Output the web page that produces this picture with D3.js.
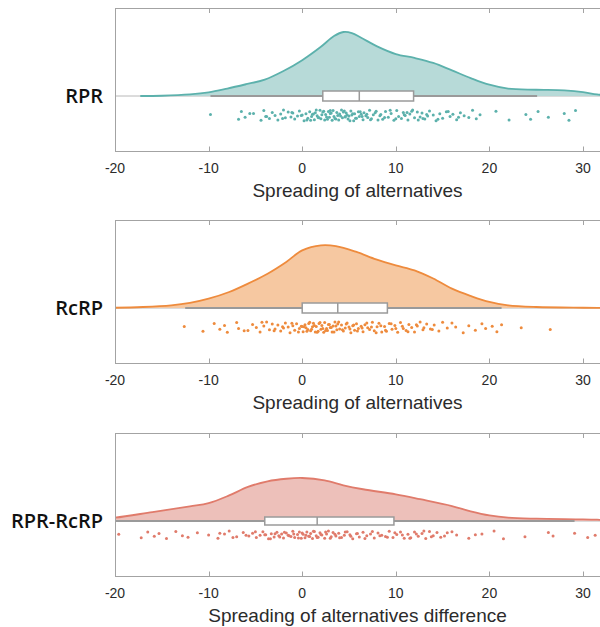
<!DOCTYPE html>
<meta charset="utf-8">
<script src="https://d3js.org/d3.v7.min.js"></script>
<style>
body { margin: 0; background: #fff; }
text { font-family: "Liberation Sans", Arial, sans-serif; }
.frame { fill: none; stroke: #a3a3a3; stroke-width: 1px; }
.tick-label { fill: #2b2b2b; font-size: 14px; }
.axis-title { fill: #2b2b2b; font-size: 19px; }
.cat-label { fill: #111; font-family: "Open Sans", sans-serif; font-size: 20px; font-weight: 600; }
.baseline { stroke: #b8b8b8; stroke-width: 1px; }
.whisker { stroke: #9a9a9a; stroke-width: 2px; }
.box { fill: #fff; stroke: #9a9a9a; stroke-width: 1.5px; }
</style>
<body>
<script>

// tick labels shared by all three panels
var xTicks = [-20, -10, 0, 10, 20, 30];

// category names and axis titles
var labels = ["RPR", "RcRP", "RPR-RcRP"];
var titles = ["Spreading of alternatives", "Spreading of alternatives", "Spreading of alternatives difference"];

// density curves: [value, density]
var rprDensity = [[-17.3,0],[-15,0.0002],[-12,0.0012],[-10,0.0028],[-8,0.0058],[-6,0.0092],[-4,0.0128],[-2,0.0195],
  [0,0.028],[2,0.0385],[3.4,0.0468],[4.4,0.05],[5.3,0.0492],[6.3,0.0455],[8,0.0388],[10,0.0328],[12,0.0297],[14,0.0258],
  [16,0.02],[18,0.014],[20,0.0088],[22,0.0057],[25,0.0049],[28,0.0044],[30,0.0031],[31.5,0.0012],[33,0.0004],[36,0]];
var rcrpDensity = [[-24,0],[-20,0.0002],[-17,0.0008],[-14,0.0021],[-12,0.004],[-10,0.0073],[-7.8,0.0125],[-5.8,0.019],
  [-3.7,0.0268],[-1.7,0.036],[0,0.045],[2,0.049],[3.6,0.0484],[5.8,0.0438],[7.9,0.038],[10,0.0333],[12,0.0294],
  [14,0.023],[16,0.0151],[18,0.0094],[20,0.0047],[22,0.0021],[25,0.0008],[30,0.0002],[34,0]];
var diffDensity = [[-26,0.0004],[-23,0.0015],[-20,0.0026],[-16,0.007],[-12,0.0115],[-10,0.014],[-7.8,0.02],[-5.8,0.0266],
  [-3.7,0.031],[-1.7,0.033],[0,0.0336],[2.4,0.0318],[4.4,0.0279],[6.5,0.0248],[10,0.0208],[12.6,0.017],[16,0.0117],
  [18,0.0076],[20,0.0044],[22,0.0026],[25,0.0018],[30,0.0013],[31.5,0.001],[34,0.0004],[36,0]];

// box plots: lower whisker, q1, median, q3, upper whisker
var rprBox = [-9.8, 2.2, 6.1, 11.9, 25.1];
var rcrpBox = [-12.5, 0, 3.8, 9.1, 21.3];
var diffBox = [-22, -4, 1.6, 9.8, 29.1];

// raw observations (rain)
var rprPoints = [-9.8, -6.8, -6.5, -6.1, -5.6, -4.4, -4.1, -3.8, -3.5, -3.2, -2.9, -2.6, -2.3, -2.0, -1.8, -1.5, -1.2, -1.0,
  -0.8, -0.5, -0.3, 0.0, 0.2, 0.4, 0.6, 0.8, 1.0, 1.1, 1.3, 1.4, 1.6, 1.7, 1.9, 2.0, 2.1, 2.3, 2.4, 2.5, 2.7, 2.8, 2.9,
  3.0, 3.2, 3.3, 3.4, 3.5, 3.7, 3.8, 3.9, 4.0, 4.2, 4.3, 4.4, 4.6, 4.7, 4.9, 5.0, 5.2, 5.3, 5.5, 5.6, 5.8, 6.0, 6.1,
  6.3, 6.5, 6.6, 6.8, 7.0, 7.2, 7.4, 7.6, 7.9, 8.1, 8.4, 8.6, 8.9, 9.2, 9.5, 9.8, 10.1, 10.3, 10.6, 10.8, 11.0, 11.3,
  11.5, 11.8, 12.0, 12.3, 12.6, 12.8, 13.1, 13.4, 13.6, 14.0, 14.3, 14.7, 15.0, 15.4, 15.8, 16.1, 16.5, 16.9, 17.3,
  17.8, 18.2, 18.6, 19.0, 20.7, 22.1, 23.9, 24.4, 25.2, 26.3, 28.0, 28.5, 29.2,
  -3.9, -2.1, -1.1, -0.1, 0.5, 1.2, 1.5, 1.8, 2.2, 2.6, 3.1, 3.6, 4.1, 4.5, 4.8, 5.1, 5.4, 5.7, 6.2, 6.4, 6.9, 7.3,
  7.8, 8.3, 8.8, 9.4, 10.0, 10.9, 11.7, 12.4, 13.3, 14.5, 15.6, 16.7, -5.2, 0.9, 3.0, 4.6, 12.9, 11.2];
var rcrpPoints = [-12.6, -10.6, -9.4, -8.8, -8.3, -8.0, -7.0, -6.8, -5.8, -5.3, -4.9, -4.5, -4.1, -3.8, -3.5, -3.2, -2.9,
  -2.6, -2.3, -2.0, -1.8, -1.5, -1.3, -1.0, -0.8, -0.6, -0.3, -0.1, 0.1, 0.3, 0.4, 0.6, 0.8, 0.9, 1.1, 1.2, 1.4, 1.5,
  1.7, 1.8, 2.0, 2.1, 2.3, 2.4, 2.6, 2.7, 2.9, 3.0, 3.2, 3.3, 3.5, 3.7, 3.8, 4.0, 4.2, 4.4, 4.6, 4.8, 5.0, 5.2, 5.4,
  5.6, 5.8, 6.0, 6.3, 6.5, 6.7, 7.0, 7.2, 7.5, 7.7, 8.0, 8.2, 8.5, 8.8, 9.0, 9.3, 9.6, 9.9, 10.2, 10.5, 10.8, 11.1,
  11.4, 11.7, 12.0, 12.3, 12.6, 12.9, 13.3, 13.7, 14.1, 14.6, 15.5, 16.0, 16.4, 17.2, 17.8, 18.5, 19.2, 19.6, 20.3,
  20.8, 21.3, 23.4, 26.5,
  -4.3, -3.0, -2.1, -1.1, -0.4, 0.0, 0.5, 0.7, 1.0, 1.3, 1.6, 1.9, 2.2, 2.5, 2.8, 3.1, 3.4, 3.6, 3.9, 4.3, 4.7, 5.1,
  5.5, 5.9, 6.4, 6.9, 7.4, 7.9, 8.4, 8.9, 9.5, 10.0, 10.7, 11.3, 12.2, 13.0, 13.9, 15.0, -6.2, 0.2];
var diffPoints = [-19.6, -17.2, -16.5, -15.8, -15.3, -14.5, -13.5, -12.8, -12.2, -11.2, -10.0, -9.0, -8.3, -7.8, -7.0,
  -6.3, -5.7, -5.3, -4.9, -4.5, -4.2, -3.9, -3.6, -3.3, -3.0, -2.7, -2.5, -2.2, -2.0, -1.7, -1.5, -1.2, -1.0, -0.8,
  -0.5, -0.3, -0.1, 0.1, 0.3, 0.5, 0.7, 0.9, 1.1, 1.3, 1.5, 1.7, 1.9, 2.1, 2.4, 2.6, 2.8, 3.1, 3.3, 3.6, 3.9, 4.2,
  4.5, 4.8, 5.1, 5.4, 5.8, 6.1, 6.5, 6.9, 7.3, 7.7, 8.1, 8.5, 8.9, 9.3, 9.7, 10.1, 10.5, 10.9, 11.3, 11.6, 12.0,
  12.4, 12.8, 13.2, 13.6, 14.0, 14.8, 15.5, 16.5, 17.8, 19.2, 20.5, 23.8, 26.3, 26.8, 29.1, 30.5, 31.3,
  -5.0, -4.0, -3.4, -2.9, -2.4, -1.9, -1.4, -0.9, -0.4, 0.0, 0.4, 0.8, 1.2, 1.6, 2.0, 2.5, 3.0, 3.5, 4.0, 4.6, 5.2,
  5.9, 6.7, 7.5, 8.3, 9.1, 9.9, 10.7, 11.5, 12.2, 13.0, 13.8, 14.4, 15.2, -8.8, -7.4, -6.0, 16.0, 18.5, 21.5];

// vertical scatter of the rain (fraction of the band), cycled over points
var jitter = [0.42, 0.85, 0.13, 0.67, 0.31, 0.94, 0.05, 0.58, 0.77, 0.22, 0.49, 0.9, 0.36, 0.01, 0.71, 0.18, 0.63,
  0.27, 0.82, 0.54, 0.09, 0.46, 0.97, 0.33, 0.75, 0.15, 0.6, 0.39, 0.88, 0.25, 0.52, 0.69, 0.03, 0.8, 0.44, 0.11, 0.92];

var panels = [
  {density: rprDensity, box: rprBox, points: rprPoints, line: "#5cb1ac", fill: "#b3d8d6", top: 8, boxH: 5, rain: [14, 25]},
  {density: rcrpDensity, box: rcrpBox, points: rcrpPoints, line: "#ee8b3d", fill: "#f5c59c", top: 220, boxH: 5, rain: [14, 25]},
  {density: diffDensity, box: diffBox, points: diffPoints, line: "#e07b6b", fill: "#ecbdb6", top: 433, boxH: 4, rain: [10, 18]}
];

var width = 600, height = 627;
var left = 115, right = 612;
var panelH = 143, baseOffset = 88;

var svg = d3.select("body").append("svg")
    .attr("width", width)
    .attr("height", height);

var x = d3.scaleLinear()
    .domain([-20, 30])
    .range([left, 583]);

// density to pixels (shared by all panels)
var dens = d3.scaleLinear()
    .domain([0, 0.05])
    .range([0, 64]);

panels.forEach(function(p, i) {
    var top = p.top, bottom = top + panelH, base = top + baseOffset;
    var g = svg.append("g");

    g.append("clipPath")
        .attr("id", "clip" + i)
      .append("rect")
        .attr("x", left).attr("y", top)
        .attr("width", right - left).attr("height", panelH);

    var plot = g.append("g").attr("clip-path", "url(#clip" + i + ")");

    plot.append("line")
        .attr("class", "baseline")
        .attr("x1", left).attr("x2", right)
        .attr("y1", base).attr("y2", base);

    var area = d3.area()
        .curve(d3.curveCatmullRom.alpha(0.5))
        .x(function(d) { return x(d[0]); })
        .y0(base)
        .y1(function(d) { return base - dens(d[1]); });

    plot.append("path")
        .datum(p.density)
        .attr("d", area)
        .style("fill", p.fill)
        .style("fill-opacity", 0.95);

    plot.append("path")
        .datum(p.density)
        .attr("d", area.lineY1())
        .style("fill", "none")
        .style("stroke", p.line)
        .style("stroke-width", 1.8);

    // box and whiskers
    plot.append("line")
        .attr("class", "whisker")
        .attr("x1", x(p.box[0])).attr("x2", x(p.box[4]))
        .attr("y1", base).attr("y2", base);

    plot.append("rect")
        .attr("class", "box")
        .attr("x", x(p.box[1]))
        .attr("y", base - p.boxH)
        .attr("width", x(p.box[3]) - x(p.box[1]))
        .attr("height", p.boxH * 2);

    plot.append("line")
        .attr("class", "whisker")
        .style("stroke-width", 1.5)
        .attr("x1", x(p.box[2])).attr("x2", x(p.box[2]))
        .attr("y1", base - p.boxH).attr("y2", base + p.boxH);

    // rain
    plot.selectAll("circle")
        .data(p.points)
      .enter().append("circle")
        .attr("cx", function(d) { return x(d); })
        .attr("cy", function(d, j) {
            return base + p.rain[0] + jitter[j % jitter.length] * (p.rain[1] - p.rain[0]);
        })
        .attr("r", 1.5)
        .style("fill", p.line);

    // frame with inward ticks top and bottom
    g.append("rect")
        .attr("class", "frame")
        .attr("x", left + 0.5).attr("y", top + 0.5)
        .attr("width", right - left).attr("height", panelH);

    g.selectAll(".tb")
        .data(xTicks)
      .enter().append("path")
        .attr("class", "frame")
        .attr("d", function(d) {
            var xx = Math.round(x(d)) + 0.5;
            return "M" + xx + "," + top + "v5M" + xx + "," + (bottom + 0.5) + "v-5";
        });

    g.selectAll(".tick-label")
        .data(xTicks)
      .enter().append("text")
        .attr("class", "tick-label")
        .attr("x", function(d) { return x(d); })
        .attr("y", bottom + 22)
        .attr("text-anchor", "middle")
        .text(function(d) { return d; });

    g.append("text")
        .attr("class", "axis-title")
        .attr("x", (left + width) / 2)
        .attr("y", bottom + 46)
        .attr("text-anchor", "middle")
        .text(titles[i]);

    g.append("text")
        .attr("class", "cat-label")
        .attr("x", left - 12)
        .attr("y", base + 7)
        .attr("text-anchor", "end")
        .text(labels[i]);
});

</script>
</body>
</html>
